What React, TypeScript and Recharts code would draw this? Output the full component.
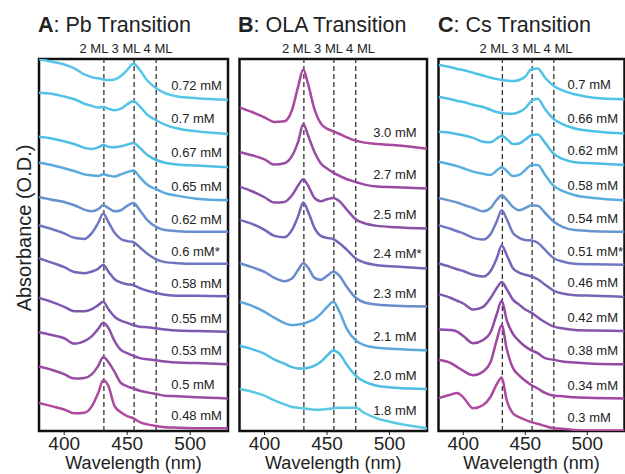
import { LineChart, Line, XAxis, YAxis, ReferenceLine, ReferenceArea, ReferenceDot } from 'recharts'

const FONT = '"Liberation Sans", Arial, Helvetica, sans-serif'

// wavelengths (nm) the spectra were read at
const wavesAB = [380, 390, 400, 408, 416, 422, 427, 431, 435, 440, 445, 450, 455, 460, 466, 473, 480, 490, 505, 530]
const wavesC = [380, 390, 395, 400, 408, 416, 422, 427, 431, 435, 440, 445, 450, 455, 460, 466, 473, 480, 490, 505, 530]
const mlLines = [431.5, 455.5, 473]
const xTicks = [400, 450, 500]

// A: Pb transition (stacked absorbance, offset included)
const pbLabels = ['0.72 mM', '0.7 mM', '0.67 mM', '0.65 mM', '0.62 mM', '0.6 mM*', '0.58 mM', '0.55 mM', '0.53 mM', '0.5 mM', '0.48 mM']
const pb072 = [6.74, 6.69, 6.64, 6.57, 6.46, 6.41, 6.39, 6.37, 6.36, 6.37, 6.43, 6.54, 6.66, 6.54, 6.35, 6.21, 6.12, 6.06, 6.03, 6.0]
const pb070 = [6.13, 6.11, 6.06, 6.01, 5.93, 5.89, 5.86, 5.87, 5.84, 5.81, 5.84, 5.92, 5.98, 5.88, 5.73, 5.63, 5.55, 5.48, 5.43, 5.38]
const pb067 = [5.33, 5.3, 5.25, 5.2, 5.13, 5.11, 5.14, 5.18, 5.15, 5.14, 5.16, 5.19, 5.22, 5.13, 5.0, 4.91, 4.86, 4.83, 4.81, 4.78]
const pb065 = [4.86, 4.82, 4.76, 4.71, 4.65, 4.63, 4.62, 4.65, 4.63, 4.61, 4.65, 4.69, 4.72, 4.6, 4.46, 4.38, 4.31, 4.26, 4.21, 4.18]
const pb062 = [4.24, 4.19, 4.15, 4.09, 4.01, 3.98, 4.02, 4.09, 4.04, 3.98, 4.0, 4.08, 4.13, 4.0, 3.82, 3.7, 3.64, 3.62, 3.61, 3.61]
const pb060 = [3.73, 3.66, 3.58, 3.5, 3.48, 3.59, 3.77, 3.94, 3.79, 3.59, 3.48, 3.44, 3.42, 3.33, 3.21, 3.11, 3.06, 3.04, 3.03, 3.03]
const pb058 = [3.13, 3.05, 2.97, 2.88, 2.86, 2.89, 2.94, 3.01, 2.89, 2.75, 2.69, 2.66, 2.64, 2.59, 2.54, 2.5, 2.47, 2.45, 2.45, 2.44]
const pb055 = [2.41, 2.34, 2.25, 2.17, 2.17, 2.21, 2.28, 2.34, 2.21, 2.07, 2.0, 1.96, 1.92, 1.89, 1.88, 1.86, 1.84, 1.82, 1.81, 1.8]
const pb053 = [1.79, 1.74, 1.68, 1.58, 1.63, 1.72, 1.85, 1.96, 1.87, 1.63, 1.47, 1.41, 1.36, 1.32, 1.3, 1.28, 1.26, 1.24, 1.23, 1.21]
const pb050 = [1.17, 1.11, 1.03, 0.95, 0.96, 1.03, 1.18, 1.34, 1.25, 1.07, 0.87, 0.81, 0.77, 0.73, 0.7, 0.67, 0.64, 0.63, 0.61, 0.59]
const pb048 = [0.51, 0.45, 0.39, 0.32, 0.33, 0.45, 0.69, 0.92, 0.82, 0.45, 0.34, 0.27, 0.23, 0.16, 0.12, 0.09, 0.07, 0.06, 0.05, 0.05]

// B: OLA transition
const olaLabels = ['3.0 mM', '2.7 mM', '2.5 mM', '2.4 mM*', '2.3 mM', '2.1 mM', '2.0 mM', '1.8 mM']
const ola30 = [4.86, 4.79, 4.71, 4.64, 4.65, 4.82, 5.18, 5.43, 5.2, 4.83, 4.62, 4.54, 4.5, 4.46, 4.41, 4.36, 4.33, 4.31, 4.29, 4.24]
const ola27 = [4.19, 4.14, 4.08, 4.0, 4.02, 4.13, 4.35, 4.61, 4.43, 4.19, 4.02, 3.94, 3.88, 3.83, 3.78, 3.74, 3.7, 3.67, 3.66, 3.64]
const ola25 = [3.67, 3.6, 3.51, 3.43, 3.44, 3.54, 3.69, 3.78, 3.68, 3.5, 3.45, 3.48, 3.5, 3.45, 3.32, 3.18, 3.12, 3.08, 3.06, 3.04]
const ola24 = [3.17, 3.11, 3.02, 2.93, 2.91, 3.02, 3.23, 3.43, 3.29, 3.05, 2.93, 2.9, 2.88, 2.82, 2.72, 2.59, 2.53, 2.49, 2.47, 2.44]
const ola23 = [2.52, 2.46, 2.39, 2.3, 2.25, 2.29, 2.42, 2.52, 2.45, 2.3, 2.27, 2.33, 2.39, 2.33, 2.16, 2.0, 1.93, 1.9, 1.88, 1.87]
const ola21 = [1.94, 1.88, 1.79, 1.7, 1.62, 1.59, 1.6, 1.61, 1.64, 1.68, 1.76, 1.86, 1.94, 1.79, 1.53, 1.36, 1.29, 1.25, 1.23, 1.21]
const ola20 = [1.28, 1.23, 1.16, 1.07, 1.01, 0.96, 0.94, 0.94, 0.95, 0.98, 1.04, 1.13, 1.21, 1.16, 0.99, 0.83, 0.74, 0.68, 0.65, 0.63]
const ola18 = [0.63, 0.59, 0.53, 0.46, 0.4, 0.36, 0.35, 0.34, 0.33, 0.32, 0.32, 0.33, 0.34, 0.35, 0.35, 0.35, 0.27, 0.19, 0.12, 0.04]

// C: Cs transition
const csLabels = ['0.7 mM', '0.66 mM', '0.62 mM', '0.58 mM', '0.54 mM', '0.51 mM*', '0.46 mM', '0.42 mM', '0.38 mM', '0.34 mM', '0.3 mM']
const cs070 = [6.63, 6.59, 6.56, 6.54, 6.49, 6.44, 6.4, 6.38, 6.36, 6.35, 6.34, 6.36, 6.42, 6.56, 6.57, 6.4, 6.25, 6.17, 6.1, 6.04, 6.01]
const cs066 = [6.05, 6.01, 5.98, 5.96, 5.91, 5.87, 5.82, 5.78, 5.76, 5.75, 5.75, 5.78, 5.85, 5.98, 6.02, 5.83, 5.65, 5.56, 5.48, 5.43, 5.39]
const cs062 = [5.42, 5.4, 5.38, 5.36, 5.31, 5.24, 5.23, 5.3, 5.35, 5.29, 5.2, 5.21, 5.28, 5.36, 5.37, 5.22, 5.02, 4.93, 4.87, 4.85, 4.82]
const cs058 = [4.88, 4.83, 4.8, 4.76, 4.7, 4.66, 4.64, 4.72, 4.78, 4.71, 4.62, 4.64, 4.73, 4.82, 4.82, 4.64, 4.44, 4.35, 4.27, 4.22, 4.18]
const cs054 = [4.22, 4.17, 4.14, 4.1, 4.04, 3.98, 4.04, 4.19, 4.27, 4.19, 4.06, 4.0, 4.04, 4.09, 4.08, 3.95, 3.79, 3.7, 3.64, 3.62, 3.61]
const cs051 = [3.73, 3.66, 3.62, 3.58, 3.5, 3.47, 3.57, 3.8, 4.0, 3.84, 3.59, 3.5, 3.46, 3.45, 3.41, 3.28, 3.13, 3.07, 3.03, 3.02, 3.01]
const cs046 = [3.04, 2.97, 2.93, 2.9, 2.83, 2.8, 2.9, 3.13, 3.36, 3.19, 2.95, 2.87, 2.83, 2.8, 2.75, 2.65, 2.54, 2.49, 2.46, 2.45, 2.43]
const cs042 = [2.48, 2.41, 2.36, 2.31, 2.2, 2.25, 2.41, 2.59, 2.7, 2.57, 2.38, 2.29, 2.2, 2.14, 2.06, 1.97, 1.89, 1.86, 1.83, 1.82, 1.81]
const cs038 = [1.84, 1.83, 1.8, 1.72, 1.59, 1.65, 1.79, 2.12, 2.36, 2.01, 1.76, 1.63, 1.53, 1.46, 1.41, 1.32, 1.29, 1.26, 1.24, 1.22, 1.21]
const cs034 = [1.29, 1.23, 1.16, 1.09, 1.01, 1.08, 1.25, 1.65, 1.92, 1.49, 1.14, 1.01, 0.91, 0.83, 0.77, 0.69, 0.64, 0.63, 0.61, 0.6, 0.59]
const cs030 = [0.59, 0.66, 0.69, 0.61, 0.41, 0.47, 0.62, 0.85, 0.97, 0.56, 0.32, 0.25, 0.2, 0.16, 0.13, 0.09, 0.05, 0.04, 0.02, 0.01, 0.01]

const pbColors = ['#56C5E8', '#52C2E7', '#4FBEE5', '#5AA9DD', '#6790CE', '#6E77C0', '#7365B7', '#7D58AF', '#8B50A9', '#9A4BA4', '#AD4A9F']
const olaColors = ['#A9489F', '#9B4AA3', '#894FA9', '#7664B8', '#6A8BCB', '#5BA6DB', '#4EBEE4', '#5BC8E2']
const csColors = ['#4FC4E7', '#4FC1E6', '#4EBDE5', '#59AEE0', '#6796CF', '#6F78C0', '#7963B5', '#8455AD', '#9049A7', '#A047A2', '#AE4A9E']

type PanelProps = {
  left: number
  width: number
  marginLeft: number
  marginRight: number
  yMax: number
  yTicks: number[]
  waves: number[]
  traces: number[][]
  labels: string[]
  colors: string[]
  labelX: number
  labelLift: number
}

function Panel(p: PanelProps) {
  const rows = p.waves.map((wl, i) => {
    const row: Record<string, number> = { wl }
    p.traces.forEach((t, k) => { row['s' + k] = t[i] })
    return row
  })
  const tail = p.waves.indexOf(505)

  return (
    <div style={{ position: 'absolute', left: p.left, top: 0 }}>
      <LineChart width={p.width} height={474} data={rows}
        margin={{ top: 59, right: p.marginRight, bottom: 0, left: p.marginLeft }}>
        <XAxis dataKey="wl" type="number" domain={[380, 530]} ticks={xTicks} allowDataOverflow
          height={43} tickSize={4} axisLine={false} tickLine={{ stroke: '#222' }}
          tick={{ fontSize: 19, fill: '#222' }}
          label={{ value: 'Wavelength (nm)', position: 'insideBottom', offset: 5, fontSize: 18, fill: '#222' }} />
        <YAxis type="number" domain={[0, p.yMax]} ticks={p.yTicks} allowDataOverflow
          width={0} tick={false} tickSize={5} axisLine={false} tickLine={{ stroke: '#222' }} />
        <ReferenceArea x1={380} x2={530} y1={0} y2={p.yMax} fill="none" fillOpacity={0}
          stroke="#111" strokeWidth={2.5} />
        {mlLines.map(x => (
          <ReferenceLine key={x} x={x} stroke="#333" strokeWidth={1.3} strokeDasharray="5 3" />
        ))}
        {p.traces.map((_, k) => (
          <Line key={k} dataKey={'s' + k} type="monotone" stroke={p.colors[k]} strokeWidth={2.5}
            dot={false} activeDot={false} isAnimationActive={false} />
        ))}
        {p.labels.map((lab, k) => (
          <ReferenceDot key={lab} x={p.labelX} y={p.traces[k][tail] + p.labelLift} r={0}
            fill="none" stroke="none"
            label={{ value: lab, position: 'right', offset: 0, fontSize: 13, fill: '#222' }} />
        ))}
      </LineChart>
    </div>
  )
}

export default function App() {
  return (
    <div style={{ position: 'absolute', left: 0, top: 0, width: 625, height: 474, overflow: 'hidden',
      background: '#fff', fontFamily: FONT }}>
      <Panel left={0} width={232} marginLeft={39} marginRight={4} yMax={6.74} yTicks={[0, 1, 2, 3, 4, 5, 6]}
        waves={wavesAB} traces={[pb072, pb070, pb067, pb065, pb062, pb060, pb058, pb055, pb053, pb050, pb048]}
        labels={pbLabels} colors={pbColors} labelX={485} labelLift={0.23} />
      <Panel left={200} width={232} marginLeft={39.5} marginRight={5} yMax={5.586} yTicks={[0, 1, 2, 3, 4, 5]}
        waves={wavesAB} traces={[ola30, ola27, ola25, ola24, ola23, ola21, ola20, ola18]}
        labels={olaLabels} colors={olaColors} labelX={487} labelLift={0.19} />
      <Panel left={400} width={225} marginLeft={38.5} marginRight={0.5} yMax={6.74} yTicks={[0, 1, 2, 3, 4, 5, 6]}
        waves={wavesC} traces={[cs070, cs066, cs062, cs058, cs054, cs051, cs046, cs042, cs038, cs034, cs030]}
        labels={csLabels} colors={csColors} labelX={484} labelLift={0.235} />
      <svg width={625} height={474} style={{ position: 'absolute', left: 0, top: 0, pointerEvents: 'none' }}
        fontFamily={FONT} fill="#222">
        <text x={38} y={32} fontSize={21.5}><tspan fontWeight="bold">A</tspan>: Pb Transition</text>
        <text x={238} y={32} fontSize={21.5}><tspan fontWeight="bold">B</tspan>: OLA Transition</text>
        <text x={438} y={32} fontSize={21.5}><tspan fontWeight="bold">C</tspan>: Cs Transition</text>
        <text x={126} y={53} fontSize={13} textAnchor="middle">2 ML 3 ML 4 ML</text>
        <text x={328.5} y={53} fontSize={13} textAnchor="middle">2 ML 3 ML 4 ML</text>
        <text x={526} y={53} fontSize={13} textAnchor="middle">2 ML 3 ML 4 ML</text>
        <text transform="translate(30.5,228) rotate(-90)" fontSize={20} textAnchor="middle">Absorbance (O.D.)</text>
      </svg>
    </div>
  )
}
